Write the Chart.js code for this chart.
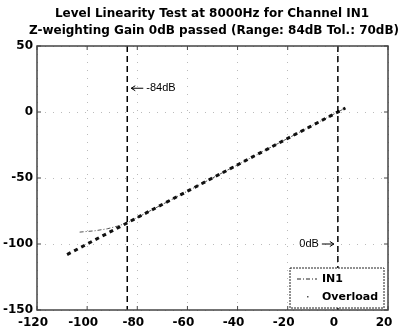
<!DOCTYPE html>
<html>
<head>
<meta charset="utf-8">
<script src="https://cdn.jsdelivr.net/npm/chart.js@4"></script>
<style>
  html, body { margin: 0; padding: 0; background: #fff; }
  #wrap { width: 404px; height: 331px; }
</style>
</head>
<body>
<div id="wrap"><canvas id="levelChart" width="404" height="331"></canvas></div>
<script>
// Title lines
const titleLines = ['Level Linearity Test at 8000Hz for Channel IN1',
                    'Z-weighting Gain 0dB passed (Range: 84dB Tol.: 70dB)'];

// Ticks
const xTicks = [-120, -100, -80, -60, -40, -20, 0, 20];
const yTicks = [-150, -100, -50, 0, 50];

// Ideal (thick dashed) line: input level vs output level
const idealX = [-108, 3];
const idealY = [-108, 3];

// Measured IN1 (dash-dot), bends away at low levels
const in1X = [-103, -97, -92, -88, -84, -70, -50, -30, -10, 3];
const in1Y = [-91, -90, -88.5, -86.5, -84, -70, -50, -30, -10, 3];

// Range markers
const rangeLow = -84;
const rangeHigh = 0;

const boldFont = '"DejaVu Sans", sans-serif';

function pts(xs, ys) { return xs.map((x, i) => ({ x: x, y: ys[i] })); }

const frameAndNotes = {
    id: 'frameAndNotes',
    afterDraw(chart) {
        const ctx = chart.ctx;
        const a = chart.chartArea;
        const xs = chart.scales.x, ys = chart.scales.y;
        ctx.save();
        // frame
        ctx.strokeStyle = '#444';
        ctx.lineWidth = 1.5;
        ctx.strokeRect(a.left, a.top, a.right - a.left, a.bottom - a.top);
        // inward ticks
        ctx.lineWidth = 1;
        xTicks.forEach(v => {
            const px = xs.getPixelForValue(v);
            ctx.beginPath();
            ctx.moveTo(px, a.bottom); ctx.lineTo(px, a.bottom - 4);
            ctx.moveTo(px, a.top); ctx.lineTo(px, a.top + 4);
            ctx.stroke();
        });
        yTicks.forEach(v => {
            const py = ys.getPixelForValue(v);
            ctx.beginPath();
            ctx.moveTo(a.left, py); ctx.lineTo(a.left + 4, py);
            ctx.moveTo(a.right, py); ctx.lineTo(a.right - 4, py);
            ctx.stroke();
        });

        // title
        ctx.fillStyle = '#000';
        ctx.font = 'bold 12px ' + boldFont;
        ctx.textAlign = 'center';
        ctx.textBaseline = 'middle';
        ctx.fillText(titleLines[0], 212, 14);
        ctx.fillText(titleLines[1], 214, 31);

        // annotations
        ctx.font = '11px "Liberation Sans", Arial, sans-serif';
        ctx.textAlign = 'left';
        ctx.lineWidth = 1;
        ctx.strokeStyle = '#000';
        let px = xs.getPixelForValue(rangeLow) + 4;
        let py = ys.getPixelForValue(18);
        ctx.beginPath();
        ctx.moveTo(px, py); ctx.lineTo(px + 12, py);
        ctx.moveTo(px, py); ctx.lineTo(px + 4, py - 2.5);
        ctx.moveTo(px, py); ctx.lineTo(px + 4, py + 2.5);
        ctx.stroke();
        ctx.fillText('-84dB', px + 15, py);

        px = xs.getPixelForValue(rangeHigh) - 4;
        py = ys.getPixelForValue(-100);
        ctx.beginPath();
        ctx.moveTo(px, py); ctx.lineTo(px - 12, py);
        ctx.moveTo(px, py); ctx.lineTo(px - 4, py - 2.5);
        ctx.moveTo(px, py); ctx.lineTo(px - 4, py + 2.5);
        ctx.stroke();
        ctx.textAlign = 'right';
        ctx.fillText('0dB', px - 15, py);

        // legend
        const lx = 290, ly = 268, lw = 94, lh = 40;
        ctx.fillStyle = '#fff';
        ctx.fillRect(lx, ly, lw, lh);
        ctx.strokeStyle = '#222';
        ctx.lineWidth = 1;
        ctx.setLineDash([2, 1]);
        ctx.strokeRect(lx, ly, lw, lh);
        ctx.setLineDash([4, 2, 1, 2]);
        ctx.beginPath();
        ctx.moveTo(lx + 7, ly + 11); ctx.lineTo(lx + 27, ly + 11);
        ctx.stroke();
        ctx.setLineDash([]);
        ctx.fillStyle = '#555';
        ctx.fillRect(lx + 17, ly + 28, 1.5, 1.5);
        ctx.fillStyle = '#000';
        ctx.font = 'bold 11px ' + boldFont;
        ctx.textAlign = 'left';
        ctx.fillText('IN1', lx + 32, ly + 11);
        ctx.fillText('Overload', lx + 32, ly + 29);
        ctx.restore();
    }
};

const ctx = document.getElementById('levelChart').getContext('2d');
const levelChart = new Chart(ctx, {
    type: 'scatter',
    data: {
        datasets: [
            {
                label: 'limit low',
                data: pts([rangeLow, rangeLow], [50, -150]),
                showLine: true, borderColor: '#000', borderWidth: 1.5,
                borderDash: [6, 4], pointRadius: 0
            },
            {
                label: 'limit high',
                data: pts([rangeHigh, rangeHigh], [50, -150]),
                showLine: true, borderColor: '#000', borderWidth: 1.5,
                borderDash: [6, 4], pointRadius: 0
            },
            {
                label: 'ideal',
                data: pts(idealX, idealY),
                showLine: true, borderColor: '#111', borderWidth: 3,
                borderDash: [4, 4], pointRadius: 0
            },
            {
                label: 'IN1',
                data: pts(in1X, in1Y),
                showLine: true, borderColor: '#555', borderWidth: 1,
                borderDash: [4, 2, 1, 2], pointRadius: 0
            }
        ]
    },
    options: {
        responsive: false,
        animation: false,
        layout: { padding: { top: 46, right: 16, left: 0, bottom: 0 } },
        plugins: { legend: { display: false }, tooltip: { enabled: false } },
        scales: {
            x: {
                type: 'linear', min: -120, max: 20,
                afterFit: s => { s.height = 21; },
                afterBuildTicks: s => { s.ticks = xTicks.map(v => ({ value: v })); },
                ticks: {
                    color: '#000', padding: 6, maxRotation: 0, labelOffset: -4,
                    font: { family: boldFont, size: 12, weight: 'bold' }
                },
                grid: { color: '#bbb', lineWidth: 1, drawTicks: false },
                border: { display: false, dash: [1, 7] }
            },
            y: {
                type: 'linear', min: -150, max: 50,
                afterFit: s => { s.width = 37; },
                afterBuildTicks: s => { s.ticks = yTicks.map(v => ({ value: v })); },
                ticks: {
                    color: '#000', padding: 4,
                    font: { family: boldFont, size: 12, weight: 'bold' }
                },
                grid: { color: '#bbb', lineWidth: 1, drawTicks: false },
                border: { display: false, dash: [1, 7] }
            }
        }
    },
    plugins: [frameAndNotes]
});
</script>
</body>
</html>
